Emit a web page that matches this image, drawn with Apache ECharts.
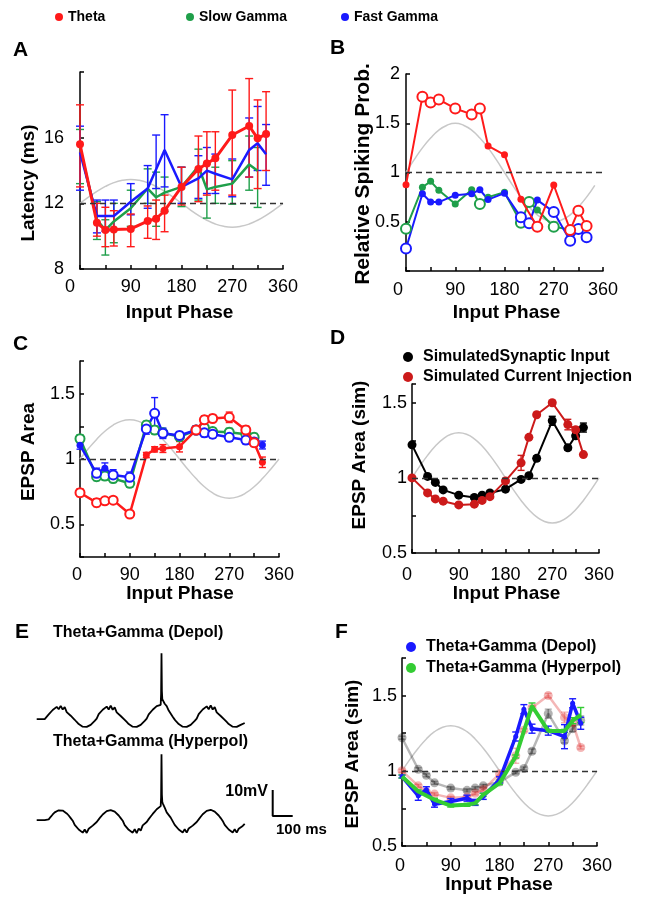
<!DOCTYPE html>
<html><head><meta charset="utf-8">
<script src="https://cdn.jsdelivr.net/npm/echarts@6/dist/echarts.min.js"></script>
<style>html,body{margin:0;padding:0;background:#fff}#c{width:653px;height:898px}</style>
</head><body><div id="c"></div>
<script>
const FONT = '"Liberation Sans", Arial, Helvetica, sans-serif';
const RED = '#ff1a1a', GREEN = '#1f9f4a', BLUE = '#1a1aff';
const DRED = '#cc1a1a', FGREEN = '#33cc33';

// ---------- shared phases ----------
const PH = [0,30,45,60,90,120,135,150,180,210,225,240,270,300,315,330];

// ---------- Panel A: latency (ms) ----------
const latThetaPh = PH;
const latTheta   = [15.6,10.82,10.37,10.4,10.44,10.92,11.06,11.55,13.0,14.09,14.43,14.74,16.16,16.71,15.96,16.22];
const latThetaLo = [13.0,10.0,9.36,9.4,9.36,9.87,9.8,10.27,11.9,12.1,12.5,12.8,12.5,13.6,12.9,14.0];
const latThetaHi = [18.0,12.0,11.76,11.55,11.35,11.84,12.2,12.5,14.2,16.1,16.36,16.36,18.9,19.6,18.3,18.8];
const latFastPh  = PH;
const latFast    = [15.1,11.23,11.23,11.23,12.1,12.9,14.07,15.25,13.0,13.52,13.99,13.8,13.46,15.25,15.66,14.99];
const latFastLo  = [12.8,10.2,10.3,10.4,11.3,11.7,12.9,13.0,12.0,12.3,12.6,12.6,12.4,13.6,14.0,13.1];
const latFastHi  = [16.7,12.2,12.2,12.2,13.2,14.3,16.16,17.4,14.2,14.9,15.4,15.0,14.7,17.2,17.9,16.8];
const latSlowPh  = [0,30,45,60,90,120,135,150,180,210,225,240,270,300,315];
const latSlow    = [15.4,11.0,10.37,10.9,11.7,12.9,12.37,12.65,13.0,14.26,12.85,13.0,13.2,14.37,13.99];
const latSlowLo  = [13.2,9.8,8.85,9.6,10.6,12.0,10.6,11.5,11.8,12.2,11.1,12.0,11.95,12.8,11.75];
const latSlowHi  = [16.5,12.1,11.0,12.0,12.8,14.1,13.9,13.6,14.2,15.3,14.4,14.2,14.6,16.1,15.4];
const sineA = [[0,12.0],[15,12.38],[30,12.73],[45,13.03],[60,13.26],[75,13.4],[90,13.45],[105,13.4],[120,13.26],[135,13.03],[150,12.73],[165,12.38],[180,12.0],[195,11.62],[210,11.27],[225,10.97],[240,10.74],[255,10.6],[270,10.55],[285,10.6],[300,10.74],[315,10.97],[330,11.27],[345,11.62],[360,12.0]];

// ---------- Panel B: relative spiking probability ----------
const bThetaPh   = [0,30,45,60,90,120,135,150,180,210,240,270,300,315,330];
const bTheta     = [0.875,1.77,1.71,1.74,1.65,1.59,1.65,1.27,1.18,0.728,0.45,0.873,0.416,0.612,0.457];
const bThetaOpen = [0,1,1,1,1,1,1,0,0,0,1,0,1,1,1];
const bSlowPh    = [0,30,45,60,90,120,135,150,180,210,225,240,270,300];
const bSlow      = [0.43,0.85,0.91,0.82,0.68,0.825,0.68,0.75,0.80,0.49,0.70,0.62,0.45,0.42];
const bSlowOpen  = [1,0,0,0,0,0,1,0,0,1,1,0,1,0];
const bFastPh    = PH;
const bFast      = [0.228,0.785,0.70,0.70,0.77,0.785,0.825,0.725,0.79,0.545,0.484,0.72,0.60,0.308,0.426,0.342];
const bFastOpen  = [1,0,0,0,0,0,0,0,0,1,1,0,1,1,1,1];
const sineB = [[0,1.0],[15,1.13],[30,1.25],[45,1.35],[60,1.43],[75,1.48],[90,1.5],[105,1.48],[120,1.43],[135,1.35],[150,1.25],[165,1.13],[180,1.0],[195,0.87],[210,0.75],[225,0.65],[240,0.57],[255,0.52],[270,0.5],[285,0.52],[300,0.57],[315,0.65],[330,0.75],[345,0.87]];

// ---------- Panel C: EPSP area ----------
const cThetaPh   = PH;
const cTheta     = [0.742,0.666,0.68,0.685,0.579,1.03,1.074,1.08,1.094,1.222,1.30,1.31,1.319,1.222,1.125,0.975];
const cThetaOpen = [1,1,1,1,1,0,0,0,0,1,1,1,1,1,1,0];
const cThetaErr  = [0.03,0.03,0.02,0.02,0.02,0.02,0.02,0.03,0.04,0.03,0.03,0.03,0.04,0.03,0.03,0.04];
const cFastPh    = PH;
const cFast      = [1.105,0.89,0.93,0.878,0.86,1.23,1.35,1.197,1.18,1.222,1.20,1.19,1.166,1.145,1.13,1.107];
const cFastOpen  = [0,1,0,1,1,1,1,1,1,1,1,1,1,1,1,0];
const cFastErr   = [0.03,0.04,0.04,0.04,0.04,0.04,0.12,0.04,0.03,0.03,0.03,0.03,0.03,0.03,0.03,0.03];
const cSlowPh    = [0,30,45,60,90,120,135,150,180,210,225,240,270,300,315];
const cSlow      = [1.155,0.865,0.87,0.85,0.814,1.26,1.222,1.20,1.17,1.222,1.24,1.21,1.205,1.19,1.166];
const cSlowErr   = [0.03,0.03,0.03,0.03,0.03,0.03,0.03,0.03,0.03,0.03,0.03,0.03,0.03,0.03,0.03];
const sine03 = [[0,1.0],[15,1.078],[30,1.15],[45,1.212],[60,1.26],[75,1.29],[90,1.3],[105,1.29],[120,1.26],[135,1.212],[150,1.15],[165,1.078],[180,1.0],[195,0.922],[210,0.85],[225,0.788],[240,0.74],[255,0.71],[270,0.7],[285,0.71],[300,0.74],[315,0.788],[330,0.85],[345,0.922],[360,1.0]];

// ---------- Panel D: simulated EPSP area ----------
const dPh       = PH;
const simSyn    = [1.22,1.01,0.97,0.92,0.885,0.87,0.885,0.90,0.925,0.99,1.015,1.13,1.38,1.20,1.28,1.335];
const simSynErr = [0.01,0.01,0.01,0.01,0.01,0.01,0.01,0.01,0.015,0.01,0.01,0.015,0.03,0.015,0.02,0.03];
const simCur    = [1.0,0.90,0.86,0.845,0.82,0.825,0.85,0.875,0.98,1.10,1.27,1.42,1.50,1.355,1.32,1.155];
const simCurErr = [0.01,0.01,0.01,0.01,0.01,0.01,0.01,0.01,0.015,0.05,0.01,0.01,0.015,0.035,0.02,0.01];

// ---------- Panel E: example traces (ms, mV relative to rest) ----------
const depolTrace = [[0,-0.7],[10,-0.7],[20,-0.7],[30,-0.7],[40,-0.7],[50,-0.6],
 [60,1.1],[70,0.7],[80,2.8],[90,2.3],[100,4.0],[110,3.1],[120,4.4],[130,3.0],[140,3.9],[150,2.0],[160,2.3],[170,0.6],[180,0.0],[190,-0.95],[200,-1.8],[210,-2.6],[220,-3.2],[230,-3.6],[240,-3.8],[250,-3.7],[260,-3.4],[270,-2.9],[280,-2.2],[290,-1.4],[300,-0.5],
 [310,1.2],[320,0.8],[330,2.9],[340,2.2],[350,4.1],[360,3.0],[370,4.5],[380,2.9],[390,3.8],[400,1.9],[410,2.2],[420,0.5],[430,0.0],[440,-1.0],[450,-1.8],[460,-2.6],[470,-3.2],[480,-3.6],[490,-3.8],[500,-3.7],[510,-3.4],[520,-2.9],[530,-2.2],[540,-1.4],[550,-0.5],
 [560,1.1],[570,0.8],[580,2.9],[590,2.5],[600,4.3],[610,4.0],[620,4.8],[622,9.0],[624,24.6],[626,10.0],[628,7.0],[632,6.3],[640,5.2],[650,4.3],[660,2.6],[670,2.2],[680,0.2],[690,-0.9],[700,-1.8],[710,-2.6],[720,-3.2],[730,-3.6],[740,-3.8],[750,-3.7],[760,-3.4],[770,-2.9],[780,-2.2],[790,-1.4],[800,-0.5],
 [810,1.2],[820,0.7],[830,3.0],[840,2.3],[850,4.2],[860,3.1],[870,4.6],[880,3.0],[890,3.9],[900,1.9],[910,2.3],[920,0.5],[930,0.0],[940,-1.0],[950,-1.8],[960,-2.6],[970,-3.2],[980,-3.6],[990,-3.8],[1000,-3.7],[1010,-3.4],[1020,-2.9],[1030,-2.6],[1040,-2.2]];
const hyperTrace = [[0,0.2],[10,0.2],[20,0.2],[30,0.2],[40,0.2],[50,0.2],
 [60,0.5],[70,1.5],[80,2.4],[90,3.2],[100,3.7],[110,4.0],[120,4.1],[130,3.9],[140,3.5],[150,2.8],[160,2.0],[170,1.0],[180,0.0],[190,-1.6],[200,-1.4],[210,-3.4],[220,-2.9],[230,-4.6],[240,-3.4],[250,-4.7],[260,-3.1],[270,-3.8],[280,-1.9],[290,-1.9],[300,-0.5],
 [310,0.5],[320,1.5],[330,2.4],[340,3.1],[350,3.7],[360,4.0],[370,4.1],[380,3.9],[390,3.5],[400,2.8],[410,2.0],[420,1.0],[430,0.0],[440,-1.7],[450,-1.3],[460,-3.5],[470,-2.8],[480,-4.6],[490,-3.3],[500,-4.8],[510,-3.0],[520,-3.8],[530,-1.8],[540,-1.9],[550,-0.5],
 [560,0.6],[570,1.6],[580,2.6],[590,3.5],[600,4.4],[610,5.0],[620,5.6],[622,9.0],[624,25.6],[626,10.0],[628,7.2],[632,6.4],[640,5.0],[650,3.2],[660,3.4],[670,1.2],[680,0.8],[690,-1.6],[700,-1.3],[710,-3.4],[720,-2.8],[730,-4.5],[740,-3.3],[750,-4.6],[760,-3.0],[770,-3.7],[780,-1.9],[790,-1.8],[800,-0.5],
 [810,0.5],[820,1.5],[830,2.5],[840,3.2],[850,3.8],[860,4.1],[870,4.2],[880,4.0],[890,3.5],[900,2.8],[910,2.0],[920,1.0],[930,-0.1],[940,-1.6],[950,-1.4],[960,-3.4],[970,-2.9],[980,-4.5],[990,-3.3],[1000,-4.6],[1010,-3.1],[1020,-3.7],[1030,-2.0],[1040,-1.2]];
const scaleBarMs = 100, scaleBarMv = 10, scaleBarOrigin = [1180, 1.8];

// ---------- Panel F: theta+gamma simulations ----------
const fDepolPh   = PH;
const fDepol     = [0.962,0.834,0.874,0.778,0.796,0.818,0.79,0.83,0.94,1.228,1.41,1.28,1.267,1.227,1.449,1.316];
const fDepolErr  = [0.01,0.03,0.02,0.02,0.02,0.02,0.02,0.02,0.02,0.03,0.03,0.03,0.03,0.08,0.03,0.04];
const fHyperPh   = [0,30,60,90,120,135,150,180,210,240,270,300,315,330];
const fHyper     = [0.962,0.863,0.807,0.769,0.774,0.785,0.84,0.918,1.095,1.431,1.265,1.265,1.333,1.371];
const fHyperErr  = [0.01,0.01,0.01,0.01,0.01,0.01,0.01,0.01,0.01,0.02,0.01,0.01,0.02,0.05];

// ================= helpers =================
const pts = (ph, v) => ph.map((p, i) => [p, v[i]]);
const ptsOC = (ph, v, open, color, so, sf) => ph.map((p, i) => open[i]
  ? {value:[p, v[i]], symbolSize:so, itemStyle:{color:'#fff', borderColor:color, borderWidth:2}}
  : {value:[p, v[i]], symbolSize:sf});
function line(name, gi, data, color, width, sym, symSize, z, extra) {
  return Object.assign({type:'line', name, xAxisIndex:gi, yAxisIndex:gi, data,
    symbol: sym || 'none', symbolSize: symSize || 0, showSymbol: !!sym,
    lineStyle:{color, width}, itemStyle:{color}, z: z || 3, silent:true, animation:false}, extra || {});
}
function errBars(gi, ph, lo, hi, color, cap, z, opacity) {
  return {type:'custom', xAxisIndex:gi, yAxisIndex:gi, z: z || 2, silent:true, animation:false,
    data: ph.map((p, i) => [p, lo[i], hi[i]]),
    renderItem: function (params, api) {
      const x = api.value(0);
      const a = api.coord([x, api.value(1)]), b = api.coord([x, api.value(2)]);
      const st = {stroke: color, lineWidth: 1.4, opacity: opacity == null ? 1 : opacity};
      return {type:'group', children:[
        {type:'line', shape:{x1:a[0], y1:a[1], x2:b[0], y2:b[1]}, style:st},
        {type:'line', shape:{x1:a[0]-cap, y1:a[1], x2:a[0]+cap, y2:a[1]}, style:st},
        {type:'line', shape:{x1:b[0]-cap, y1:b[1], x2:b[0]+cap, y2:b[1]}, style:st}]};
    }};
}
const symErr = (ph, v, e, gi, color, cap, z, op) =>
  errBars(gi, ph, v.map((y, i) => y - e[i]), v.map((y, i) => y + e[i]), color, cap, z, op);
function sine(gi, data, refY) {
  return {type:'line', xAxisIndex:gi, yAxisIndex:gi, data, smooth:true, symbol:'none', z:1,
    lineStyle:{color:'#c8c8c8', width:1.5}, silent:true, animation:false,
    markLine:{silent:true, symbol:['none','none'], label:{show:false}, animation:false,
      lineStyle:{color:'#333', type:[6,4], width:1.4}, data:[{yAxis:refY}]}};
}

// ================= layout =================
const grids = [
  {left:80, top:72, width:203, height:197},
  {left:406, top:74, width:197, height:197},
  {left:80, top:361, width:199, height:196},
  {left:412, top:384, width:187, height:169},
  {left:36.7, top:644.5, width:290, height:93.6},
  {left:36.7, top:747.9, width:290, height:93.6},
  {left:402, top:658, width:195, height:188}
].map(g => Object.assign({containLabel:false, outerBoundsMode:'none'}, g));

const axLine = {lineStyle:{color:'#000', width:1.5}};
const axTick = {inside:true, length:4, lineStyle:{color:'#000', width:1.5}};
function phaseX(gi, zeroShift, margin) {
  return {type:'value', gridIndex:gi, min:0, max:360, interval:45, axisLine:axLine, axisTick:axTick,
    splitLine:{show:false},
    axisLabel:{margin, color:'#000', fontSize:18, fontFamily:FONT,
      formatter: v => (v % 90 !== 0) ? '' : (v === 0 ? '{z|0}' : String(v)),
      rich:{z:{padding:[0, zeroShift * 2, 0, 0], fontSize:18, fontFamily:FONT, color:'#000'}}}};
}
function valY(gi, min, max, interval, margin, show) {
  return {type:'value', gridIndex:gi, min, max, interval, axisLine:Object.assign({show:true}, axLine),
    axisTick:axTick, splitLine:{show:false},
    axisLabel:{margin, color:'#000', fontSize:18, fontFamily:FONT, formatter: v => show(v) ? String(v) : ''}};
}
const halfStep = v => Math.abs(v * 2 - Math.round(v * 2)) < 1e-6;
const hiddenX = gi => ({type:'value', gridIndex:gi, min:0, max:1450, show:false});
const hiddenY = gi => ({type:'value', gridIndex:gi, min:-8, max:28, show:false});

const xAxis = [phaseX(0, 10, 9), phaseX(1, 8, 10), phaseX(2, 3, 9), phaseX(3, 5, 13), hiddenX(4), hiddenX(5), phaseX(6, 2, 11)];
const yAxis = [
  valY(0, 8, 20, 4, 16, v => v < 19),
  valY(1, 0, 2, 0.5, 6, v => v > 0.1),
  valY(2, 0.25, 1.75, 0.25, 5, v => halfStep(v) && v > 0.4 && v < 1.6),
  valY(3, 0.5, 1.625, 0.25, 5, v => halfStep(v) && v < 1.6),
  hiddenY(4), hiddenY(5),
  valY(6, 0.5, 1.75, 0.25, 5, v => halfStep(v) && v < 1.6)
];

// ================= series =================
const series = [
  // A
  sine(0, sineA, 12),
  errBars(0, latSlowPh, latSlowLo, latSlowHi, GREEN, 4, 2),
  errBars(0, latFastPh, latFastLo, latFastHi, BLUE, 4, 2),
  errBars(0, latThetaPh, latThetaLo, latThetaHi, RED, 4, 2),
  line('Slow Gamma', 0, pts(latSlowPh, latSlow), GREEN, 2.5),
  line('Fast Gamma', 0, pts(latFastPh, latFast), BLUE, 2.5),
  line('Theta', 0, pts(latThetaPh, latTheta), RED, 3, 'circle', 8, 4),
  // B
  sine(1, sineB, 1),
  line('Slow Gamma', 1, ptsOC(bSlowPh, bSlow, bSlowOpen, GREEN, 10, 7), GREEN, 2, 'circle', 7),
  line('Fast Gamma', 1, ptsOC(bFastPh, bFast, bFastOpen, BLUE, 10, 7), BLUE, 2, 'circle', 7),
  line('Theta', 1, ptsOC(bThetaPh, bTheta, bThetaOpen, RED, 10, 7), RED, 2, 'circle', 7, 4),
  // C
  sine(2, sine03, 1),
  symErr(cSlowPh, cSlow, cSlowErr, 2, GREEN, 3.5, 2),
  symErr(cFastPh, cFast, cFastErr, 2, BLUE, 3.5, 2),
  symErr(cThetaPh, cTheta, cThetaErr, 2, RED, 3.5, 2),
  line('Slow Gamma', 2, ptsOC(cSlowPh, cSlow, cSlowPh.map(() => 1), GREEN, 9, 7), GREEN, 2.5, 'circle', 7),
  line('Fast Gamma', 2, ptsOC(cFastPh, cFast, cFastOpen, BLUE, 9, 7), BLUE, 2.5, 'circle', 7),
  line('Theta', 2, ptsOC(cThetaPh, cTheta, cThetaOpen, RED, 9, 7), RED, 2.5, 'circle', 7, 4),
  // D
  sine(3, sine03, 1),
  symErr(dPh, simSyn, simSynErr, 3, '#000', 3.5, 2),
  symErr(dPh, simCur, simCurErr, 3, DRED, 3.5, 2),
  line('SimulatedSynaptic Input', 3, pts(dPh, simSyn), '#000', 2, 'circle', 9),
  line('Simulated Current Injection', 3, pts(dPh, simCur), DRED, 2, 'circle', 9, 4),
  // E
  line('Depol trace', 4, depolTrace, '#000', 1.8),
  line('Hyperpol trace', 5, hyperTrace, '#000', 1.8),
  line('Scale bar', 5, [[scaleBarOrigin[0], scaleBarOrigin[1] + scaleBarMv], scaleBarOrigin,
    [scaleBarOrigin[0] + scaleBarMs, scaleBarOrigin[1]]], '#000', 2),
  // F
  sine(6, sine03, 1),
  line('Synaptic (faded)', 6, pts(dPh, simSyn), '#000', 2.5, 'circle', 9, 2,
    {lineStyle:{color:'#000', width:2.5, opacity:0.28}, itemStyle:{color:'#000', opacity:0.3}}),
  line('Current (faded)', 6, pts(dPh, simCur), DRED, 2.5, 'circle', 9, 2,
    {lineStyle:{color:'#e03030', width:2.5, opacity:0.35}, itemStyle:{color:'#e03030', opacity:0.35}}),
  symErr(dPh, simSyn, simSynErr, 6, '#000', 3.5, 2, 0.3),
  symErr(dPh, simCur, simCurErr, 6, '#e03030', 3.5, 2, 0.35),
  symErr(fDepolPh, fDepol, fDepolErr, 6, BLUE, 3.5, 3),
  symErr(fHyperPh, fHyper, fHyperErr, 6, FGREEN, 3.5, 3),
  line('Theta+Gamma (Depol)', 6, pts(fDepolPh, fDepol), BLUE, 3.5, 'circle', 5, 4),
  line('Theta+Gamma (Hyperpol)', 6, pts(fHyperPh, fHyper), FGREEN, 4, null, 0, 5)
];

// ================= legends =================
const legTxt = size => ({fontSize:size, fontWeight:'bold', fontFamily:FONT, color:'#000'});
const legend = [
  {data:[{name:'Theta', icon:'circle'}], left:55, top:10, padding:0, itemWidth:8, itemHeight:8, selectedMode:false, textStyle:legTxt(14)},
  {data:[{name:'Slow Gamma', icon:'circle'}], left:186, top:10, padding:0, itemWidth:8, itemHeight:8, selectedMode:false, textStyle:legTxt(14)},
  {data:[{name:'Fast Gamma', icon:'circle'}], left:341, top:10, padding:0, itemWidth:8, itemHeight:8, selectedMode:false, textStyle:legTxt(14)},
  {data:[{name:'SimulatedSynaptic Input', icon:'circle'}, {name:'Simulated Current Injection', icon:'circle'}],
    orient:'vertical', left:403, top:349, padding:0, itemGap:4, itemWidth:20, itemHeight:10, selectedMode:false, textStyle:legTxt(16)},
  {data:[{name:'Theta+Gamma (Depol)', icon:'circle'}, {name:'Theta+Gamma (Hyperpol)', icon:'circle'}],
    orient:'vertical', left:406, top:639, padding:0, itemGap:5, itemWidth:20, itemHeight:10, selectedMode:false, textStyle:legTxt(16)}
];

// ================= texts =================
function T(text, x, y, size, o) {
  o = o || {};
  const al = o.align || 'center';
  return {type:'text', x, y, rotation:o.rot || 0, silent:true, z:10,
    style:{text, fontSize:size, fontWeight:o.weight || 'bold', fontFamily:FONT, fill:'#000',
      textAlign:al, align:al, textVerticalAlign:'middle', verticalAlign:'middle'}};
}
const R = Math.PI / 2;
const graphic = [
  T('A', 13, 50, 21, {align:'left'}), T('B', 330, 48.5, 21, {align:'left'}),
  T('C', 13, 344, 21, {align:'left'}), T('D', 330, 338.5, 21, {align:'left'}),
  T('E', 15, 632.5, 21, {align:'left'}), T('F', 335, 632, 21, {align:'left'}),
  T('Input Phase', 179.5, 313, 19), T('Input Phase', 506.5, 313, 19),
  T('Input Phase', 180, 594, 19), T('Input Phase', 506.5, 594, 19), T('Input Phase', 499, 885, 19),
  T('Latency (ms)', 29, 183, 19, {rot:R}), T('Relative Spiking Prob.', 363, 174, 21, {rot:R}),
  T('EPSP Area', 29, 452, 19, {rot:R}), T('EPSP Area (sim)', 360, 455, 19, {rot:R}),
  T('EPSP Area (sim)', 353, 754, 19, {rot:R}),
  T('Theta+Gamma (Depol)', 53, 633, 16, {align:'left'}),
  T('Theta+Gamma (Hyperpol)', 53, 741.5, 16, {align:'left'}),
  T('10mV', 268, 791.5, 16, {align:'right'}),
  T('100 ms', 276, 830, 15, {align:'left'})
];

const chart = echarts.init(document.getElementById('c'), null, {renderer:'canvas'});
chart.setOption({backgroundColor:'#fff', animation:false, grid:grids, xAxis, yAxis, series, legend, graphic});
</script></body></html>
